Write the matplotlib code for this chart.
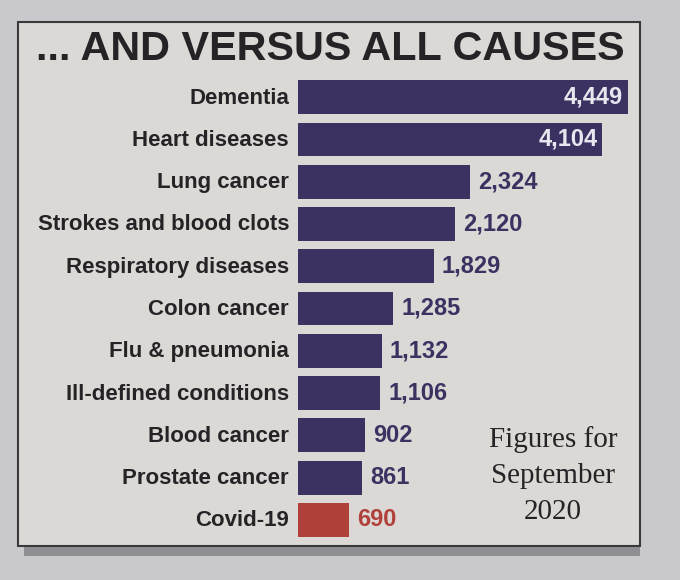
import matplotlib
matplotlib.use("Agg")
import matplotlib.pyplot as plt
from matplotlib.patches import Rectangle

categories = ["Dementia", "Heart diseases", "Lung cancer", "Strokes and blood clots",
              "Respiratory diseases", "Colon cancer", "Flu & pneumonia",
              "Ill-defined conditions", "Blood cancer", "Prostate cancer", "Covid-19"]
values = [4449, 4104, 2324, 2120, 1829, 1285, 1132, 1106, 902, 861, 690]
title = "... AND VERSUS ALL CAUSES"
note = "Figures for\nSeptember\n2020"

BAR = "#3b3262"
RED = "#b0413a"
INK = "#262326"
PAPER = "#dcd8d6"
COND = ["Liberation Sans", "DejaVu Sans"]

W, H = 680, 580
fig = plt.figure(figsize=(W / 100, H / 100), dpi=100, facecolor="#c8c8cd")

def fx(px):
    return px / W

def fy(py):
    return 1 - py / H

# panel shadow and panel
fig.patches.append(Rectangle((fx(24), fy(556)), fx(628 - 12), (548 - 20) / H,
                             transform=fig.transFigure, facecolor="#8f8e92",
                             edgecolor="none", zorder=-2))
fig.patches.append(Rectangle((fx(18), fy(546)), fx(622), (546 - 22) / H,
                             transform=fig.transFigure, facecolor=PAPER,
                             edgecolor="#3a383b", linewidth=1.5, zorder=-1))

fig.text(fx(330), fy(49), title, ha="center", va="center", fontsize=29.8,
         fontweight="bold", family=COND, color=INK, zorder=5)

ax = fig.add_axes([fx(298), fy(541), fx(340), 465 / H])
ax.set_facecolor("none")
ax.set_xlim(0, 340 / (330 / 4449))
ax.set_ylim(len(values) - 0.5, -0.5)
ax.axis("off")

colors = [RED if c == "Covid-19" else BAR for c in categories]
ys = list(range(len(values)))
ax.barh(ys, values, height=0.8, color=colors, zorder=3)

for y, c, v, col in zip(ys, categories, values, colors):
    ax.annotate(c, xy=(0, y), xytext=(-9, -1), textcoords="offset pixels",
                ha="right", va="center", fontsize=16, fontweight="bold",
                family=COND, color=INK, annotation_clip=False)
    s = f"{v:,}"
    if v > 3000:
        ax.annotate(s, xy=(v, y), xytext=(-5, 0), textcoords="offset pixels",
                    ha="right", va="center", fontsize=17, fontweight="bold",
                    family=COND, color="#e8e6ee")
    else:
        ax.annotate(s, xy=(v, y), xytext=(8, 0), textcoords="offset pixels",
                    ha="left", va="center", fontsize=17, fontweight="bold",
                    family=COND, color=RED if c == "Covid-19" else BAR)

fig.text(fx(553), fy(476), note, ha="center", va="center", fontsize=21,
         family=["Liberation Serif", "DejaVu Serif"], color=INK,
         linespacing=1.5, zorder=5)

fig.savefig("out.png", dpi=100, facecolor=fig.get_facecolor())
